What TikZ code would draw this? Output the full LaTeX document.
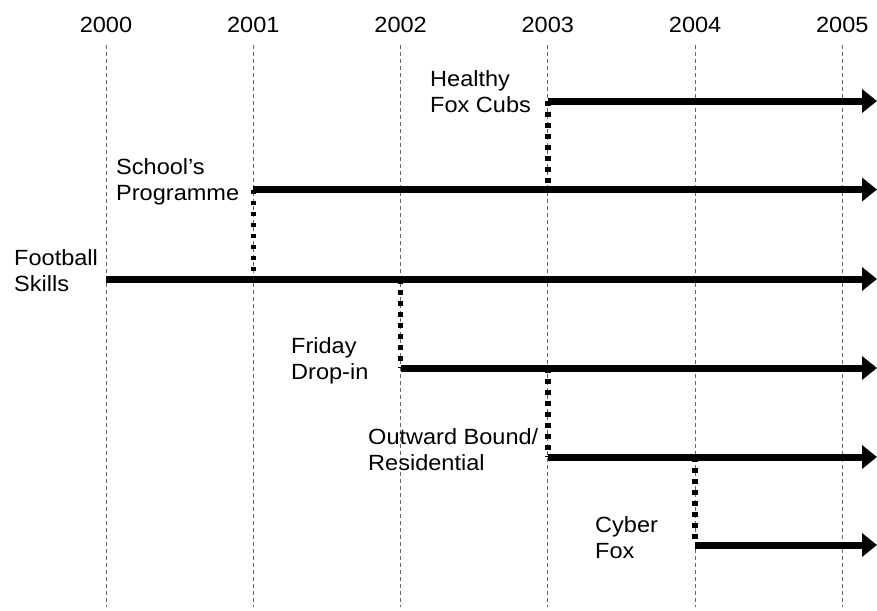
\documentclass[tikz,border=0pt]{standalone}
\usepackage{fontspec}
\setmainfont{Liberation Sans}[FakeStretch=1.07]
\usetikzlibrary{arrows.meta}
\begin{document}
\begin{tikzpicture}[x=1pt,y=-1pt,
  lab/.style={font=\fontsize{22}{26.5}\selectfont, inner sep=0pt, anchor=north west, align=left},
  yearlab/.style={font=\fontsize{22}{26.5}\selectfont, inner sep=0pt, anchor=base},
  gridline/.style={draw=black!60, line width=1pt, dash pattern=on 4pt off 3pt},
  track/.style={line width=7pt, -{Triangle[length=15pt,width=23pt]}},
  link/.style={line width=5.5pt, dash pattern=on 4.5pt off 6.5pt}]
\useasboundingbox (0,0) rectangle (877,610);
% year columns
\foreach \yr/\xx in {2000/106,2001/253.3,2002/400.6,2003/547.8,2004/695.1,2005/842.3}{
  \node[yearlab] (y\yr) at (\xx,33) {\yr};
  \coordinate (gt\yr) at (\xx,45);
  \coordinate (gb\yr) at (\xx,607);
  \draw[gridline] (gt\yr) -- (gb\yr);
}
% row coordinates
\coordinate (hs) at (547.8,101);   \coordinate (he) at (877,101);
\coordinate (ss) at (253.3,189.5); \coordinate (se) at (877,189.5);
\coordinate (fs) at (106,279);     \coordinate (fe) at (877,279);
\coordinate (ds) at (400.6,368);   \coordinate (de) at (877,368);
\coordinate (os) at (547.8,457);   \coordinate (oe) at (877,457);
\coordinate (cs) at (695.1,545);   \coordinate (ce) at (877,545);
\coordinate (s3) at (547.8,189.5);
\coordinate (f1) at (253.3,279);
\coordinate (f2) at (400.6,279);
\coordinate (d3) at (547.8,368);
\coordinate (o4) at (695.1,457);
% dotted links
\draw[link] (hs) -- (s3);
\draw[link] (ss) -- (f1);
\draw[link] (f2) -- (ds);
\draw[link] (d3) -- (os);
\draw[link] (o4) -- (cs);
% tracks
\draw[track] (hs) -- (he);
\draw[track] (ss) -- (se);
\draw[track] (fs) -- (fe);
\draw[track] (ds) -- (de);
\draw[track] (os) -- (oe);
\draw[track] (cs) -- (ce);
% labels
\node[lab] (lh) at (430,70) {Healthy\\Fox Cubs};
\node[lab] (ls) at (116,158) {School’s\\Programme};
\node[lab] (lf) at (14,249) {Football\\Skills};
\node[lab] (ld) at (291,337) {Friday\\Drop-in};
\node[lab] (lo) at (368,428) {Outward Bound/\\Residential};
\node[lab] (lc) at (595,516) {Cyber\\Fox};
\end{tikzpicture}
\end{document}
